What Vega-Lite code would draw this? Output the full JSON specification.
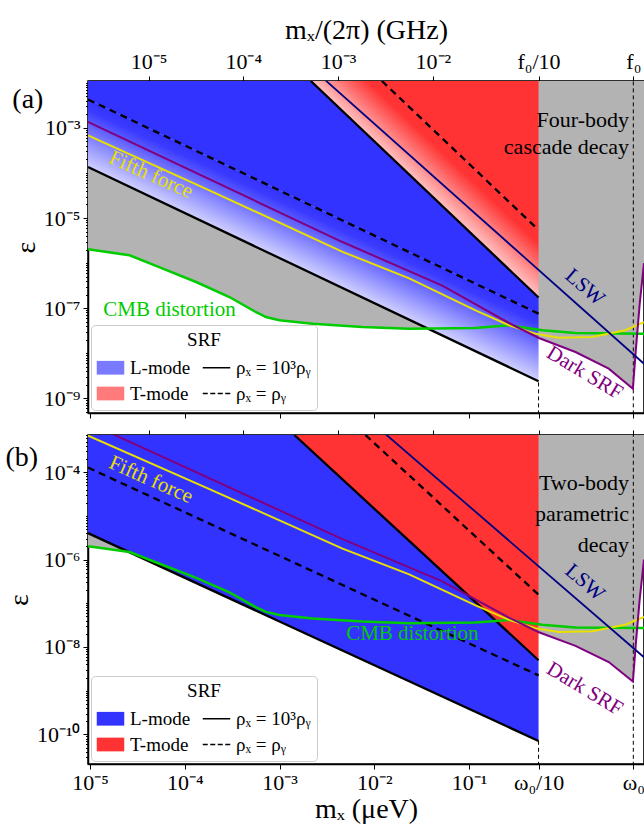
{
  "$schema": "https://vega.github.io/schema/vega-lite/v6.json",
  "padding": {"left": 4, "right": 0, "top": 15, "bottom": 0},
  "config": {
    "font": "Liberation Serif",
    "view": {"stroke": "black", "strokeWidth": 1.5},
    "axis": {"labelFont": "Liberation Serif", "labelFontSize": 22, "titleFont": "Liberation Serif", "titleFontSize": 28, "titleFontWeight": "normal", "labelColor": "black", "titleColor": "black", "domainColor": "black", "tickColor": "black", "grid": false, "zindex": 1, "domainWidth": 1.5, "tickWidth": 1, "tickSize": 5},
    "legend": {"orient": "bottom-left", "offset": 3, "padding": 6, "fillColor": "white", "strokeColor": "#cccccc", "cornerRadius": 4, "titleFont": "Liberation Serif", "titleFontSize": 19, "titleFontWeight": "normal", "titleAnchor": "middle", "titleColor": "black", "titlePadding": 4, "labelFont": "Liberation Serif", "labelFontSize": 19, "labelColor": "black", "symbolSize": 625, "symbolStrokeWidth": 1.5, "columns": 2, "columnPadding": 8, "rowPadding": 2, "labelOffset": 6, "labelLimit": 200},
    "title": {"font": "Liberation Serif", "fontSize": 28, "fontWeight": "normal", "color": "black"}
  },
  "datasets": {
    "dummy": [{"mx": 0.001, "eps": 1e-5}],
    "grey": [
      {"mx": 9.5e-6, "eps": 2.018e-6, "eps2": 1},
      {"mx": 2.612e-5, "eps": 1.486e-6, "eps2": 1},
      {"mx": 5.861e-5, "eps": 7.499e-7, "eps2": 1},
      {"mx": 1.315e-4, "eps": 3.802e-7, "eps2": 1},
      {"mx": 2.951e-4, "eps": 1.766e-7, "eps2": 1},
      {"mx": 5.585e-4, "eps": 8.204e-8, "eps2": 1},
      {"mx": 7.178e-4, "eps": 6.353e-8, "eps2": 1},
      {"mx": 9.931e-4, "eps": 5.37e-8, "eps2": 1},
      {"mx": 2.228e-3, "eps": 4.508e-8, "eps2": 1},
      {"mx": 7.499e-3, "eps": 3.811e-8, "eps2": 1},
      {"mx": 2.323e-2, "eps": 3.491e-8, "eps2": 1},
      {"mx": 0.1161, "eps": 3.622e-8, "eps2": 1},
      {"mx": 0.263, "eps": 4.159e-8, "eps2": 1},
      {"mx": 0.5399, "eps": 3.311e-8, "eps2": 1},
      {"mx": 0.5401, "eps": 2.188e-8, "eps2": 1},
      {"mx": 1.324, "eps": 1.062e-8, "eps2": 1},
      {"mx": 2.972, "eps": 4.519e-9, "eps2": 1},
      {"mx": 5.346, "eps": 1.622e-9, "eps2": 1},
      {"mx": 5.754, "eps": 1.259e-8, "eps2": 1},
      {"mx": 6.31, "eps": 1.259e-7, "eps2": 1},
      {"mx": 7.0, "eps": 1.0e-6, "eps2": 1}
    ],
    "green": [
      {"mx": 9.5e-6, "eps": 2.018e-6}, {"mx": 2.612e-5, "eps": 1.486e-6}, {"mx": 5.861e-5, "eps": 7.499e-7},
      {"mx": 1.315e-4, "eps": 3.802e-7}, {"mx": 2.951e-4, "eps": 1.766e-7}, {"mx": 5.585e-4, "eps": 8.204e-8},
      {"mx": 7.178e-4, "eps": 6.353e-8}, {"mx": 9.931e-4, "eps": 5.37e-8}, {"mx": 2.228e-3, "eps": 4.508e-8},
      {"mx": 7.499e-3, "eps": 3.811e-8}, {"mx": 2.323e-2, "eps": 3.491e-8}, {"mx": 0.1161, "eps": 3.622e-8},
      {"mx": 0.263, "eps": 4.159e-8}, {"mx": 0.5902, "eps": 3.221e-8}, {"mx": 1.324, "eps": 2.805e-8},
      {"mx": 7.0, "eps": 2.704e-8}
    ],
    "yellow": [
      {"mx": 9.5e-6, "eps": 6.855e-4}, {"mx": 1.585e-4, "eps": 4.677e-5}, {"mx": 4.613e-3, "eps": 1.778e-6},
      {"mx": 2.328e-2, "eps": 4.571e-7}, {"mx": 0.1169, "eps": 8.913e-8}, {"mx": 0.263, "eps": 4.169e-8},
      {"mx": 0.5012, "eps": 2.692e-8}, {"mx": 0.8851, "eps": 2.188e-8}, {"mx": 1.982, "eps": 2.291e-8},
      {"mx": 4.446, "eps": 3.236e-8}, {"mx": 7.0, "eps": 4.898e-8}
    ],
    "purple": [
      {"mx": 9.5e-6, "eps": 1.352e-3}, {"mx": 4.613e-3, "eps": 2.931e-6}, {"mx": 5.212e-2, "eps": 3.162e-7},
      {"mx": 0.263, "eps": 4.677e-8}, {"mx": 0.5445, "eps": 2.173e-8}, {"mx": 1.324, "eps": 1.062e-8},
      {"mx": 2.972, "eps": 4.519e-9}, {"mx": 5.346, "eps": 1.622e-9}, {"mx": 5.754, "eps": 1.259e-8},
      {"mx": 6.31, "eps": 1.259e-7}, {"mx": 7.0, "eps": 1.0e-6}
    ],
    "lsw": [{"mx": 1.995e-3, "eps": 2.523e-2}, {"mx": 7.0, "eps": 5.82e-9}],
    "ruleW0": [{"mx": 5.4, "eps": 1e-12, "eps2": 1}],
    "ruleW010A": [{"mx": 0.54, "eps": 1e-12, "eps2": 2.385e-9}],
    "ruleW010B": [{"mx": 0.54, "eps": 1e-12, "eps2": 7.07e-11}],
    "blueSolidA": [{"mx": 9.5e-6, "eps": 4.288e-3, "eps2": 1.1e-2}, {"mx": 2.134e-3, "eps": 1.909e-5, "eps2": 1.1e-2}, {"mx": 0.54, "eps": 7.543e-8, "eps2": 1.719e-7}],
    "blueGradA": [{"mx": 9.5e-6, "eps": 1.356e-4, "eps2": 4.288e-3}, {"mx": 0.54, "eps": 2.385e-9, "eps2": 7.543e-8}],
    "tGradA": [{"mx": 2.134e-3, "eps": 1.1e-2, "eps2": 1.1e-2}, {"mx": 1.2e-2, "eps": 3.478e-4, "eps2": 1.1e-2}, {"mx": 0.54, "eps": 1.719e-7, "eps2": 5.434e-6}],
    "redA": [{"mx": 1.2e-2, "eps": 1.1e-2, "eps2": 1.1e-2}, {"mx": 0.54, "eps": 5.434e-6, "eps2": 1.1e-2}],
    "solidA": [{"id": "L", "mx": 9.5e-6, "eps": 1.356e-4}, {"id": "L", "mx": 0.54, "eps": 2.385e-9}, {"id": "T", "mx": 2.134e-3, "eps": 1.1e-2}, {"id": "T", "mx": 0.54, "eps": 1.719e-7}],
    "dashedA": [{"id": "L", "mx": 9.5e-6, "eps": 4.288e-3}, {"id": "L", "mx": 0.54, "eps": 7.543e-8}, {"id": "T", "mx": 1.2e-2, "eps": 1.1e-2}, {"id": "T", "mx": 0.54, "eps": 5.434e-6}],
    "blueB": [{"mx": 9.5e-6, "eps": 4.021e-6, "eps2": 7.08e-4}, {"mx": 1.43e-3, "eps": 2.669e-8, "eps2": 7.08e-4}, {"mx": 0.54, "eps": 7.07e-11, "eps2": 4.968e-9}],
    "redB": [{"mx": 1.43e-3, "eps": 7.08e-4, "eps2": 7.08e-4}, {"mx": 0.54, "eps": 4.968e-9, "eps2": 7.08e-4}],
    "solidB": [{"id": "L", "mx": 9.5e-6, "eps": 4.021e-6}, {"id": "L", "mx": 0.54, "eps": 7.07e-11}, {"id": "T", "mx": 1.43e-3, "eps": 7.08e-4}, {"id": "T", "mx": 0.54, "eps": 4.968e-9}],
    "dashedB": [{"id": "L", "mx": 9.5e-6, "eps": 1.271e-4}, {"id": "L", "mx": 0.54, "eps": 2.236e-9}, {"id": "T", "mx": 8.04e-3, "eps": 7.08e-4}, {"id": "T", "mx": 0.54, "eps": 1.571e-7}],
    "fifthA": [{"mx": 4.377e-5, "eps": 9.01e-5, "label": "Fifth force"}],
    "cmbA": [{"mx": 6.891e-5, "eps": 9.08e-8, "label": "CMB distortion"}],
    "lswA": [{"mx": 1.654, "eps": 2.87e-7, "label": "LSW"}],
    "darkA": [{"mx": 1.654, "eps": 3.627e-9, "label": "Dark SRF"}],
    "decayA": [{"mx": 4.866, "eps": 1.461e-3, "label": "Four-body\ncascade decay"}],
    "fifthB": [{"mx": 4.377e-5, "eps": 6.611e-5, "label": "Fifth force"}],
    "cmbB": [{"mx": 2.518e-2, "eps": 1.977e-8, "label": "CMB distortion"}],
    "lswB": [{"mx": 1.654, "eps": 2.96e-7, "label": "LSW"}],
    "darkB": [{"mx": 1.654, "eps": 1.091e-9, "label": "Dark SRF"}],
    "decayB": [{"mx": 4.866, "eps": 5.643e-5, "label": "Two-body\nparametric\ndecay"}],
    "legA": [{"mx": 1e-3, "eps": 1, "cat": "a"}, {"mx": 1e-3, "eps": 1, "cat": "b"}, {"mx": 1e-3, "eps": 1, "cat": "c"}, {"mx": 1e-3, "eps": 1, "cat": "d"}],
    "legB": [{"mx": 1e-3, "eps": 1, "cat": "a"}, {"mx": 1e-3, "eps": 1, "cat": "b"}, {"mx": 1e-3, "eps": 1, "cat": "c"}, {"mx": 1e-3, "eps": 1, "cat": "d"}]
  },
  "spacing": 8,
  "resolve": {"scale": {"x": "independent", "y": "independent", "fill": "independent", "stroke": "independent", "shape": "independent"}, "legend": {"fill": "independent", "stroke": "independent", "shape": "independent"}},
  "vconcat": [
    {
      "width": 556, "height": 332,
      "title": {"text": "(a)", "anchor": "start", "frame": "bounds", "dy": 102},
      "resolve": {"axis": {"x": "independent", "y": "independent"}},
      "layer": [
        {
          "encoding": {
            "x": {"field": "mx", "type": "quantitative", "scale": {"type": "log", "domain": [9.5e-6, 7.0], "nice": false}, "axis": {"orient": "bottom", "values": [1e-5, 1e-4, 1e-3, 1e-2, 1e-1, 0.54, 5.4], "labels": false, "title": null}},
            "y": {"field": "eps", "type": "quantitative", "scale": {"type": "log", "domain": [4.7e-10, 1.1e-2], "nice": false}, "axis": {"orient": "left", "values": [1e-9, 1e-7, 1e-5, 1e-3], "labelExpr": "'10' + ['⁰','⁻¹','⁻²','⁻³','⁻⁴','⁻⁵','⁻⁶','⁻⁷','⁻⁸','⁻⁹','⁻¹⁰','⁻¹¹'][round(-log(datum.value)/LN10)]", "title": "ε", "titlePadding": 3, "labelPadding": 3}}
          },
          "layer": [
            {"data": {"name": "grey"}, "mark": {"type": "area", "color": "#b3b3b3", "clip": true, "orient": "vertical"}, "encoding": {"y2": {"field": "eps2"}}},
            {"data": {"name": "ruleW0"}, "mark": {"type": "rule", "color": "black", "strokeWidth": 1, "strokeDash": [4, 3], "clip": true}, "encoding": {"y2": {"field": "eps2"}}},
            {"data": {"name": "blueSolidA"}, "mark": {"type": "area", "color": "#3333ff", "clip": true, "orient": "vertical"}, "encoding": {"y2": {"field": "eps2"}}},
            {"data": {"name": "blueGradA"}, "mark": {"type": "area", "clip": true, "orient": "vertical", "color": {"gradient": "linear", "x1": 0.5, "y1": 0.3801, "x2": 0.3846, "y2": 0.532, "stops": [{"offset": 0, "color": "#3333ff"}, {"offset": 0.15, "color": "#3a3aff"}, {"offset": 1, "color": "#d0d0ff"}]}}, "encoding": {"y2": {"field": "eps2"}}},
            {"data": {"name": "tGradA"}, "mark": {"type": "area", "clip": true, "orient": "vertical", "color": {"gradient": "linear", "x1": 0.5, "y1": 0.5, "x2": 0.656, "y2": 0.344, "stops": [{"offset": 0, "color": "#ffc0c0"}, {"offset": 0.8, "color": "#ff3333"}, {"offset": 1, "color": "#ff3333"}]}}, "encoding": {"y2": {"field": "eps2"}}},
            {"data": {"name": "redA"}, "mark": {"type": "area", "color": "#ff3333", "clip": true, "orient": "vertical"}, "encoding": {"y2": {"field": "eps2"}}},
            {"data": {"name": "ruleW010A"}, "mark": {"type": "rule", "color": "black", "strokeWidth": 1, "strokeDash": [4, 3], "clip": true}, "encoding": {"y2": {"field": "eps2"}}},
            {"data": {"name": "solidA"}, "mark": {"type": "line", "color": "black", "strokeWidth": 2.3, "clip": true}, "encoding": {"detail": {"field": "id"}}},
            {"data": {"name": "dashedA"}, "mark": {"type": "line", "color": "black", "strokeWidth": 2.3, "strokeDash": [7, 5], "clip": true}, "encoding": {"detail": {"field": "id"}}},
            {"data": {"name": "green"}, "mark": {"type": "line", "color": "#00cc00", "strokeWidth": 2.5, "clip": true}, "encoding": {}},
            {"data": {"name": "yellow"}, "mark": {"type": "line", "color": "#e8e000", "strokeWidth": 2, "clip": true}, "encoding": {}},
            {"data": {"name": "purple"}, "mark": {"type": "line", "color": "#800080", "strokeWidth": 2, "clip": true}, "encoding": {}},
            {"data": {"name": "lsw"}, "mark": {"type": "line", "color": "#000080", "strokeWidth": 1.8, "clip": true}, "encoding": {}},
            {"data": {"name": "fifthA"}, "mark": {"type": "text", "color": "#e8e000", "fontSize": 21, "angle": 24, "font": "Liberation Serif"}, "encoding": {"text": {"field": "label"}}},
            {"data": {"name": "cmbA"}, "mark": {"type": "text", "color": "#00cc00", "fontSize": 21, "font": "Liberation Serif"}, "encoding": {"text": {"field": "label"}}},
            {"data": {"name": "lswA"}, "mark": {"type": "text", "color": "#000080", "fontSize": 21, "angle": 41, "font": "Liberation Serif"}, "encoding": {"text": {"field": "label"}}},
            {"data": {"name": "darkA"}, "mark": {"type": "text", "color": "#800080", "fontSize": 21, "angle": 31, "font": "Liberation Serif"}, "encoding": {"text": {"field": "label"}}},
            {"data": {"name": "decayA"}, "mark": {"type": "text", "color": "black", "fontSize": 22, "align": "right", "baseline": "middle", "lineBreak": "\n", "lineHeight": 27, "font": "Liberation Serif"}, "encoding": {"text": {"field": "label"}}},
            {"data": {"name": "legA"}, "mark": {"type": "point", "filled": true, "opacity": 1, "clip": true},
             "encoding": {
               "fill": {"field": "cat", "type": "nominal", "scale": {"domain": ["a", "b", "c", "d"], "range": ["#7a7aff", "#ff7a7a", "transparent", "transparent"]}, "legend": {"title": "SRF", "columns": 2, "labelExpr": "datum.label == 'a' ? 'L-mode' : datum.label == 'b' ? 'T-mode' : datum.label == 'c' ? 'ρₓ = 10³ρᵧ' : 'ρₓ = ρᵧ'"}},
               "stroke": {"field": "cat", "type": "nominal", "scale": {"domain": ["a", "b", "c", "d"], "range": ["transparent", "transparent", "black", "black"]}, "legend": {"title": "SRF", "columns": 2, "labelExpr": "datum.label == 'a' ? 'L-mode' : datum.label == 'b' ? 'T-mode' : datum.label == 'c' ? 'ρₓ = 10³ρᵧ' : 'ρₓ = ρᵧ'"}},
               "shape": {"field": "cat", "type": "nominal", "scale": {"domain": ["a", "b", "c", "d"], "range": ["M-1.1,-0.55H1.1V0.55H-1.1Z", "M-1.1,-0.55H1.1V0.55H-1.1Z", "M-1.1,0H1.1", "M-1.1,0H-0.7M-0.5,0H-0.1M0.1,0H0.5M0.7,0H1.1"]}, "legend": {"title": "SRF", "columns": 2, "labelExpr": "datum.label == 'a' ? 'L-mode' : datum.label == 'b' ? 'T-mode' : datum.label == 'c' ? 'ρₓ = 10³ρᵧ' : 'ρₓ = ρᵧ'"}}
             }}
          ]
        },
        {
          "data": {"name": "dummy"}, "mark": {"type": "point", "opacity": 0},
          "encoding": {
            "x": {"field": "mx", "type": "quantitative", "scale": {"type": "log", "domain": [9.5e-6, 7.0], "nice": false}, "axis": {"orient": "top", "values": [4.1357e-5, 4.1357e-4, 4.1357e-3, 4.1357e-2, 0.54, 5.4], "labelExpr": "datum.value > 5 ? 'f₀' : datum.value > 0.5 ? 'f₀/10' : '10' + ['⁰','⁻¹','⁻²','⁻³','⁻⁴','⁻⁵','⁻⁶','⁻⁷','⁻⁸','⁻⁹'][round(-log(datum.value/4.1357)/LN10)]", "title": "mₓ/(2π)  (GHz)", "labelPadding": 3, "titlePadding": 6}},
            "y": {"field": "eps", "type": "quantitative", "scale": {"type": "log", "domain": [4.7e-10, 1.1e-2], "nice": false}, "axis": null}
          }
        },
        {
          "data": {"name": "dummy"}, "mark": {"type": "point", "opacity": 0},
          "encoding": {
            "x": {"field": "mx", "type": "quantitative", "scale": {"type": "log", "domain": [9.5e-6, 7.0], "nice": false}, "axis": null},
            "y": {"field": "eps", "type": "quantitative", "scale": {"type": "log", "domain": [4.7e-10, 1.1e-2], "nice": false}, "axis": {"orient": "left", "values": [5e-10,6e-10,7e-10,8e-10,9e-10,2e-9,3e-9,4e-9,5e-9,6e-9,7e-9,8e-9,9e-9,1e-8,2e-8,3e-8,4e-8,5e-8,6e-8,7e-8,8e-8,9e-8,2e-7,3e-7,4e-7,5e-7,6e-7,7e-7,8e-7,9e-7,1e-6,2e-6,3e-6,4e-6,5e-6,6e-6,7e-6,8e-6,9e-6,2e-5,3e-5,4e-5,5e-5,6e-5,7e-5,8e-5,9e-5,1e-4,2e-4,3e-4,4e-4,5e-4,6e-4,7e-4,8e-4,9e-4,2e-3,3e-3,4e-3,5e-3,6e-3,7e-3,8e-3,9e-3,1e-2], "labels": false, "tickSize": 2.5, "domain": false, "title": null}}
          }
        },
        {
          "data": {"name": "dummy"}, "mark": {"type": "point", "opacity": 0},
          "encoding": {
            "x": {"field": "mx", "type": "quantitative", "scale": {"type": "log", "domain": [9.5e-6, 7.0], "nice": false}, "axis": null},
            "y": {"field": "eps", "type": "quantitative", "scale": {"type": "log", "domain": [4.7e-10, 1.1e-2], "nice": false}, "axis": {"orient": "right", "ticks": false, "labels": false, "title": null, "domain": true}}
          }
        }
      ]
    },
    {
      "width": 556, "height": 329,
      "title": {"text": "(b)", "anchor": "start", "frame": "bounds", "dy": 46},
      "resolve": {"axis": {"x": "independent", "y": "independent"}},
      "layer": [
        {
          "encoding": {
            "x": {"field": "mx", "type": "quantitative", "scale": {"type": "log", "domain": [9.5e-6, 7.0], "nice": false}, "axis": {"orient": "bottom", "values": [1e-5, 1e-4, 1e-3, 1e-2, 1e-1, 0.54, 5.4], "labelExpr": "datum.value > 5 ? 'ω₀' : datum.value > 0.5 ? 'ω₀/10' : '10' + ['⁰','⁻¹','⁻²','⁻³','⁻⁴','⁻⁵','⁻⁶','⁻⁷','⁻⁸','⁻⁹'][round(-log(datum.value)/LN10)]", "title": "mₓ  (μeV)", "labelPadding": 3, "titlePadding": 2}},
            "y": {"field": "eps", "type": "quantitative", "scale": {"type": "log", "domain": [2.1e-11, 7.08e-4], "nice": false}, "axis": {"orient": "left", "values": [1e-10, 1e-8, 1e-6, 1e-4], "labelExpr": "'10' + ['⁰','⁻¹','⁻²','⁻³','⁻⁴','⁻⁵','⁻⁶','⁻⁷','⁻⁸','⁻⁹','⁻¹⁰','⁻¹¹'][round(-log(datum.value)/LN10)]", "title": "ε", "titlePadding": 3, "labelPadding": 3}}
          },
          "layer": [
            {"data": {"name": "grey"}, "mark": {"type": "area", "color": "#b3b3b3", "clip": true, "orient": "vertical"}, "encoding": {"y2": {"field": "eps2"}}},
            {"data": {"name": "ruleW0"}, "mark": {"type": "rule", "color": "black", "strokeWidth": 1, "strokeDash": [4, 3], "clip": true}, "encoding": {"y2": {"field": "eps2"}}},
            {"data": {"name": "blueB"}, "mark": {"type": "area", "color": "#3333ff", "clip": true, "orient": "vertical"}, "encoding": {"y2": {"field": "eps2"}}},
            {"data": {"name": "redB"}, "mark": {"type": "area", "color": "#ff3333", "clip": true, "orient": "vertical"}, "encoding": {"y2": {"field": "eps2"}}},
            {"data": {"name": "ruleW010B"}, "mark": {"type": "rule", "color": "black", "strokeWidth": 1, "strokeDash": [4, 3], "clip": true}, "encoding": {"y2": {"field": "eps2"}}},
            {"data": {"name": "solidB"}, "mark": {"type": "line", "color": "black", "strokeWidth": 2.3, "clip": true}, "encoding": {"detail": {"field": "id"}}},
            {"data": {"name": "dashedB"}, "mark": {"type": "line", "color": "black", "strokeWidth": 2.3, "strokeDash": [7, 5], "clip": true}, "encoding": {"detail": {"field": "id"}}},
            {"data": {"name": "green"}, "mark": {"type": "line", "color": "#00cc00", "strokeWidth": 2.5, "clip": true}, "encoding": {}},
            {"data": {"name": "yellow"}, "mark": {"type": "line", "color": "#e8e000", "strokeWidth": 2, "clip": true}, "encoding": {}},
            {"data": {"name": "purple"}, "mark": {"type": "line", "color": "#800080", "strokeWidth": 2, "clip": true}, "encoding": {}},
            {"data": {"name": "lsw"}, "mark": {"type": "line", "color": "#000080", "strokeWidth": 1.8, "clip": true}, "encoding": {}},
            {"data": {"name": "fifthB"}, "mark": {"type": "text", "color": "#e8e000", "fontSize": 21, "angle": 24, "font": "Liberation Serif"}, "encoding": {"text": {"field": "label"}}},
            {"data": {"name": "cmbB"}, "mark": {"type": "text", "color": "#00cc00", "fontSize": 21, "font": "Liberation Serif"}, "encoding": {"text": {"field": "label"}}},
            {"data": {"name": "lswB"}, "mark": {"type": "text", "color": "#000080", "fontSize": 21, "angle": 41, "font": "Liberation Serif"}, "encoding": {"text": {"field": "label"}}},
            {"data": {"name": "darkB"}, "mark": {"type": "text", "color": "#800080", "fontSize": 21, "angle": 31, "font": "Liberation Serif"}, "encoding": {"text": {"field": "label"}}},
            {"data": {"name": "decayB"}, "mark": {"type": "text", "color": "black", "fontSize": 22, "align": "right", "baseline": "middle", "lineBreak": "\n", "lineHeight": 31, "font": "Liberation Serif"}, "encoding": {"text": {"field": "label"}}},
            {"data": {"name": "legB"}, "mark": {"type": "point", "filled": true, "opacity": 1, "clip": true},
             "encoding": {
               "fill": {"field": "cat", "type": "nominal", "scale": {"domain": ["a", "b", "c", "d"], "range": ["#3333ff", "#ff3333", "transparent", "transparent"]}, "legend": {"title": "SRF", "columns": 2, "labelExpr": "datum.label == 'a' ? 'L-mode' : datum.label == 'b' ? 'T-mode' : datum.label == 'c' ? 'ρₓ = 10³ρᵧ' : 'ρₓ = ρᵧ'"}},
               "stroke": {"field": "cat", "type": "nominal", "scale": {"domain": ["a", "b", "c", "d"], "range": ["transparent", "transparent", "black", "black"]}, "legend": {"title": "SRF", "columns": 2, "labelExpr": "datum.label == 'a' ? 'L-mode' : datum.label == 'b' ? 'T-mode' : datum.label == 'c' ? 'ρₓ = 10³ρᵧ' : 'ρₓ = ρᵧ'"}},
               "shape": {"field": "cat", "type": "nominal", "scale": {"domain": ["a", "b", "c", "d"], "range": ["M-1.1,-0.55H1.1V0.55H-1.1Z", "M-1.1,-0.55H1.1V0.55H-1.1Z", "M-1.1,0H1.1", "M-1.1,0H-0.7M-0.5,0H-0.1M0.1,0H0.5M0.7,0H1.1"]}, "legend": {"title": "SRF", "columns": 2, "labelExpr": "datum.label == 'a' ? 'L-mode' : datum.label == 'b' ? 'T-mode' : datum.label == 'c' ? 'ρₓ = 10³ρᵧ' : 'ρₓ = ρᵧ'"}}
             }}
          ]
        },
        {
          "data": {"name": "dummy"}, "mark": {"type": "point", "opacity": 0},
          "encoding": {
            "x": {"field": "mx", "type": "quantitative", "scale": {"type": "log", "domain": [9.5e-6, 7.0], "nice": false}, "axis": {"orient": "top", "values": [4.1357e-5, 4.1357e-4, 4.1357e-3, 4.1357e-2, 0.54, 5.4], "labels": false, "title": null}},
            "y": {"field": "eps", "type": "quantitative", "scale": {"type": "log", "domain": [2.1e-11, 7.08e-4], "nice": false}, "axis": null}
          }
        },
        {
          "data": {"name": "dummy"}, "mark": {"type": "point", "opacity": 0},
          "encoding": {
            "x": {"field": "mx", "type": "quantitative", "scale": {"type": "log", "domain": [9.5e-6, 7.0], "nice": false}, "axis": null},
            "y": {"field": "eps", "type": "quantitative", "scale": {"type": "log", "domain": [2.1e-11, 7.08e-4], "nice": false}, "axis": {"orient": "left", "values": [3e-11,4e-11,5e-11,6e-11,7e-11,8e-11,9e-11,2e-10,3e-10,4e-10,5e-10,6e-10,7e-10,8e-10,9e-10,1e-9,2e-9,3e-9,4e-9,5e-9,6e-9,7e-9,8e-9,9e-9,2e-8,3e-8,4e-8,5e-8,6e-8,7e-8,8e-8,9e-8,1e-7,2e-7,3e-7,4e-7,5e-7,6e-7,7e-7,8e-7,9e-7,2e-6,3e-6,4e-6,5e-6,6e-6,7e-6,8e-6,9e-6,1e-5,2e-5,3e-5,4e-5,5e-5,6e-5,7e-5,8e-5,9e-5,2e-4,3e-4,4e-4,5e-4,6e-4,7e-4], "labels": false, "tickSize": 2.5, "domain": false, "title": null}}
          }
        },
        {
          "data": {"name": "dummy"}, "mark": {"type": "point", "opacity": 0},
          "encoding": {
            "x": {"field": "mx", "type": "quantitative", "scale": {"type": "log", "domain": [9.5e-6, 7.0], "nice": false}, "axis": null},
            "y": {"field": "eps", "type": "quantitative", "scale": {"type": "log", "domain": [2.1e-11, 7.08e-4], "nice": false}, "axis": {"orient": "right", "ticks": false, "labels": false, "title": null, "domain": true}}
          }
        }
      ]
    }
  ]
}
